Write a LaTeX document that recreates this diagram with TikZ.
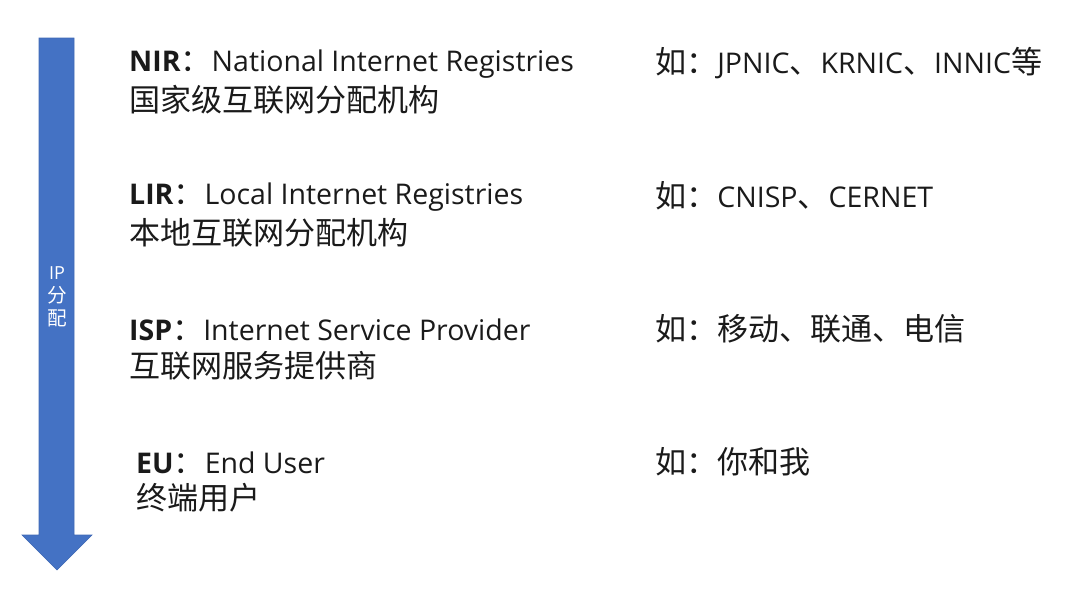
\documentclass[tikz,border=0pt]{standalone}
\usepackage{fontspec}
\setmainfont{Open Sans}
\newfontfamily\cjk{Noto Sans CJK SC}[Scale=1.09]
\definecolor{arrowblue}{HTML}{4472C4}
\definecolor{arrowedge}{HTML}{3F68B4}
\definecolor{txt}{HTML}{1A1A1A}
\begin{document}
\begin{tikzpicture}[x=1pt,y=-1pt,
	    term/.style={anchor=west,inner sep=0pt,text=txt,font=\fontsize{28.5}{30}\selectfont},
	    example/.style={term},
	    label/.style={inner sep=0pt,text=white,font=\fontsize{18}{21}\selectfont,align=center}]
		\useasboundingbox (0,0) rectangle (1080,608);

		% allocation arrow
		\fill[arrowblue,draw=arrowedge,line width=0.6pt] (39,38) -- (74,38) -- (74,535) -- (92,535)
		    -- (57,570) -- (22,535) -- (39,535) -- cycle;
		\node[label] (alloc) at (57,297) {IP\\[2pt]{\cjk 分}\\[2pt]{\cjk 配}};

		% registries
		\node[term] (nir) at (129,64) {\textbf{NIR}{\cjk ：}National Internet Registries};
		\node[term] (nirzh) at (129,100) {\cjk 国家级互联网分配机构};
		\node[term] (lir) at (129,197) {\textbf{LIR}{\cjk ：}Local Internet Registries};
		\node[term] (lirzh) at (129,233) {\cjk 本地互联网分配机构};
		\node[term] (isp) at (129,330) {\textbf{ISP}{\cjk ：}Internet Service Provider};
		\node[term] (ispzh) at (129,366) {\cjk 互联网服务提供商};
		\node[term] (eu) at (136,463) {\textbf{EU}{\cjk ：}End User};
		\node[term] (euzh) at (136,498) {\cjk 终端用户};

		% examples
		\node[example] (nirex) at (655,63) {{\cjk 如：}JPNIC{\cjk 、}KRNIC{\cjk 、}INNIC{\cjk 等}};
		\node[example] (lirex) at (655,196) {{\cjk 如：}CNISP{\cjk 、}CERNET};
		\node[example] (ispex) at (655,329) {\cjk 如：移动、联通、电信};
		\node[example] (euex) at (655,462) {\cjk 如：你和我};
	    \end{tikzpicture}
\end{document}
